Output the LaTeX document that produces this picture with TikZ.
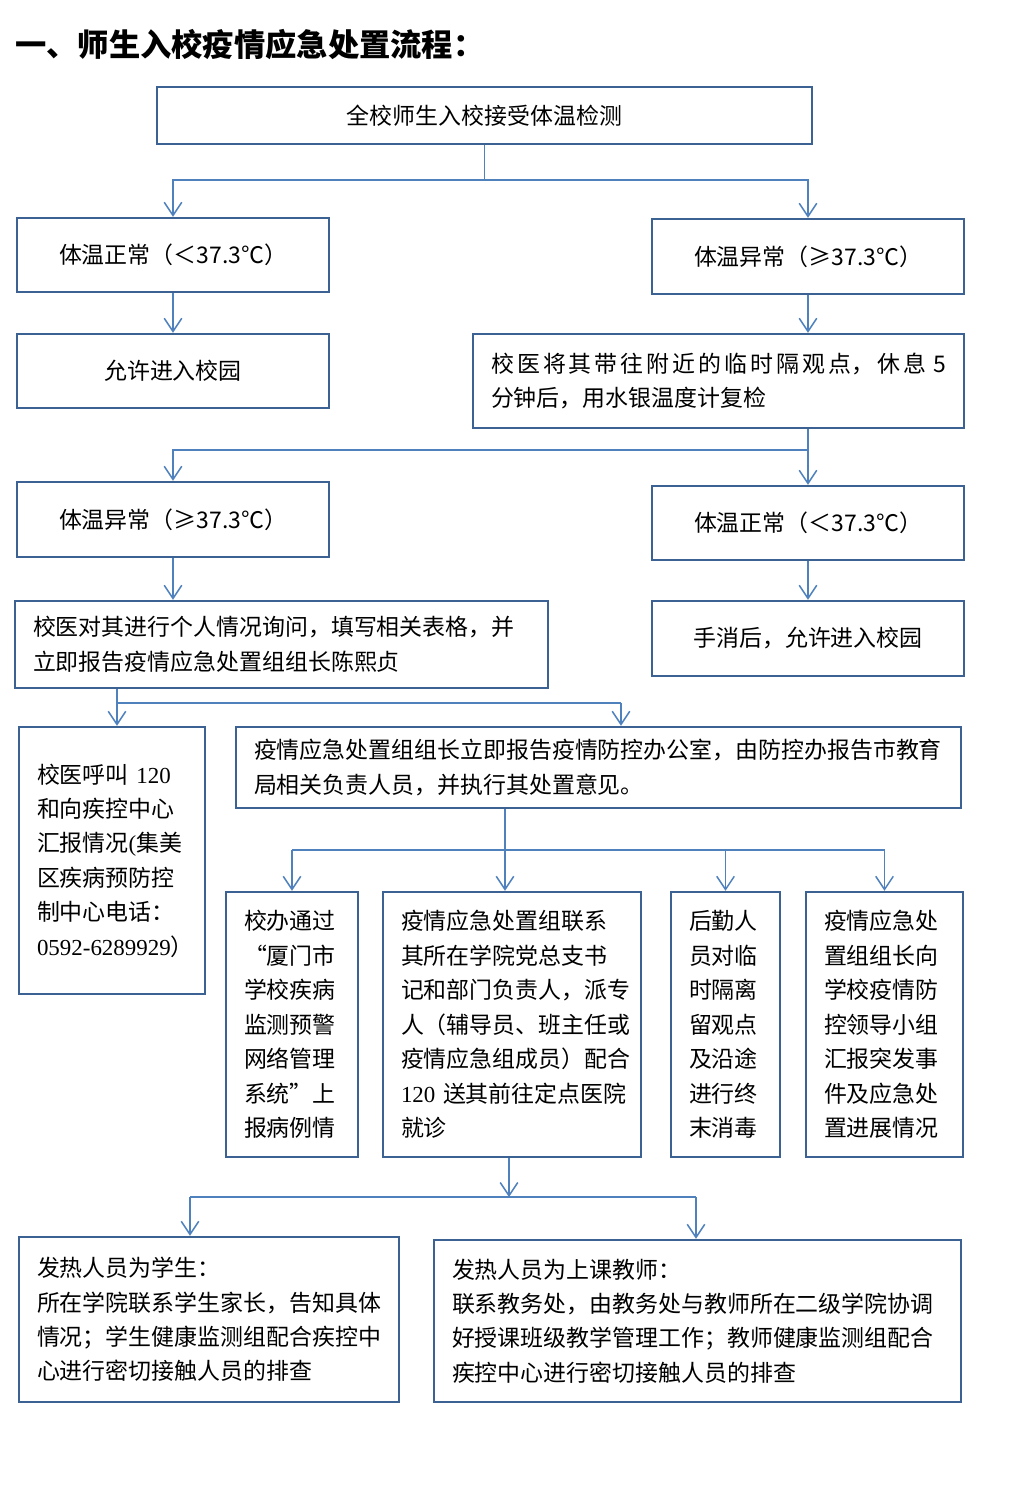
\documentclass[tikz,border=0pt]{standalone}
\usepackage{fontspec}
\setmainfont{Noto Sans CJK SC}
\newfontfamily\numfont{Liberation Serif}
\usetikzlibrary{arrows.meta}

\definecolor{boxblue}{HTML}{3B6293}
\definecolor{lineblue}{HTML}{4F81BD}
\newcommand\flowtitle{\fontsize{17.8pt}{21pt}\selectfont\bfseries}
\newcommand\flowtext{\fontsize{13.05pt}{19.6pt}\selectfont}

\begin{document}
\begin{tikzpicture}[x=0.02cm, y=-0.02cm,
	box/.style={draw=boxblue, line width=1.4pt, inner sep=0pt, font=\flowtext},
	tbox/.style={box, align=left, inner xsep=0.36cm},
	link/.style={draw=lineblue, line width=0.85pt},
	arr/.style={link, -{Straight Barb[length=7.5pt, width=10pt]}}]
	\useasboundingbox (0,0) rectangle (1024,1492);

	% Title.
	\node[anchor=west, inner sep=0pt, font=\flowtitle] (title) at (15,45) {一、师生入校疫情应急处置流程：};

	% First check.
	\node[box, minimum width=13.1cm, minimum height=1.14cm] (check) at (484.5,115.5) {全校师生入校接受体温检测};
	\node[box, minimum width=6.24cm, minimum height=1.48cm] (normalA) at (173,255) {体温正常（＜37.3℃）};
	\node[box, minimum width=6.24cm, minimum height=1.5cm] (feverA) at (808,256.5) {体温异常（≥37.3℃）};
	\node[box, minimum width=6.24cm, minimum height=1.48cm] (enterA) at (173,371) {允许进入校园};
	\node[tbox, align=justify, text width=9.1cm, minimum height=1.88cm] (recheck) at (718.5,381)
		{\XeTeXlinebreaklocale "zh"\relax\XeTeXlinebreakskip=0pt plus 3pt 校医将其带往附近的临时隔观点，休息 5\linebreak 分钟后，用水银温度计复检\XeTeXlinebreaklocale ""\relax};

	% Second check.
	\node[box, minimum width=6.24cm, minimum height=1.5cm] (feverB) at (173,519.5) {体温异常（≥37.3℃）};
	\node[box, minimum width=6.24cm, minimum height=1.48cm] (normalB) at (808,523) {体温正常（＜37.3℃）};
	\node[tbox, text width=9.94cm, minimum height=1.74cm] (inquire) at (281.5,644.5)
		{校医对其进行个人情况询问，填写相关表格，并\\立即报告疫情应急处置组组长陈熙贞};
	\node[box, minimum width=6.24cm, minimum height=1.5cm] (enterB) at (808,638.5) {手消后，允许进入校园};

	% Reporting.
	\node[tbox, text width=3.0cm, minimum height=5.34cm] (call) at (112,860.5)
		{校医呼叫 {\numfont 120}\\和向疾控中心\\汇报情况{\numfont(}集美\\区疾病预防控\\制中心电话：\\\mbox{{\numfont 0592-6289929}）}};
	\node[tbox, text width=13.78cm, minimum height=1.62cm] (report) at (598.5,767.5)
		{疫情应急处置组组长立即报告疫情防控办公室，由防控办报告市教育\\局相关负责人员，并执行其处置意见。};

	% Actions.
	\node[tbox, text width=1.92cm, minimum height=5.3cm] (office) at (292,1024.5)
		{校办通过\\“厦门市\\学校疾病\\监测预警\\网络管理\\系统”上\\报病例情};
	\node[tbox, text width=4.44cm, minimum height=5.3cm] (contact) at (512,1024.5)
		{疫情应急处置组联系\\其所在学院党总支书\\记和部门负责人，派专\\人（辅导员、班主任或\\疫情应急组成员）配合\\\mbox{{\numfont 120} 送其前往定点医院}\\就诊};
	\node[tbox, text width=1.46cm, minimum height=5.3cm] (logistics) at (725.5,1024.5)
		{后勤人\\员对临\\时隔离\\留观点\\及沿途\\进行终\\末消毒};
	\node[tbox, text width=2.42cm, minimum height=5.3cm] (leader) at (884.5,1024.5)
		{疫情应急处\\置组组长向\\学校疫情防\\控领导小组\\汇报突发事\\件及应急处\\置进展情况};

	% Follow-up.
	\node[tbox, text width=6.88cm, minimum height=3.3cm] (student) at (209,1319.5)
		{发热人员为学生：\\所在学院联系学生家长，告知具体\\情况；学生健康监测组配合疾控中\\心进行密切接触人员的排查};
	\node[tbox, text width=9.82cm, minimum height=3.24cm] (teacher) at (697.5,1321)
		{发热人员为上课教师：\\联系教务处，由教务处与教师所在二级学院协调\\好授课班级教学管理工作；教师健康监测组配合\\疾控中心进行密切接触人员的排查};

	% Connect first check.
	\draw[link] (check.south) -- ++(0,35) coordinate (s1);
	\draw[arr] (s1) -| (normalA.north);
	\draw[arr] (s1) -| (feverA.north);
	\draw[arr] (normalA) -- (enterA);
	\draw[arr] (feverA.south) -- (feverA.south |- recheck.north);

	% Connect second check.
	\coordinate (s2) at (808,450);
	\draw[arr] (recheck.south -| normalB) -- (normalB.north);
	\draw[arr] (s2) -| (feverB.north);
	\draw[arr] (feverB.south) -- (feverB.south |- inquire.north);
	\draw[arr] (normalB) -- (enterB);

	% Connect reporting.
	\coordinate (s3l) at (117,703);
	\coordinate (s3r) at (621,703);
	\draw[arr] (inquire.south -| s3l) -- (s3l |- call.north);
	\draw[link] (s3l) -- (s3r);
	\draw[arr] (s3r) -- (s3r |- report.north);

	% Connect actions.
	\coordinate (s4) at (505,850);
	\draw[arr] (report.south -| s4) -- (s4 |- contact.north);
	\draw[link] (office.north |- s4) -- (leader.north |- s4);
	\foreach \n in {office, logistics, leader}
		\draw[arr] (\n.north |- s4) -- (\n.north);

	% Connect follow-up.
	\coordinate (s5) at (509,1197);
	\coordinate (s5l) at (190,1197);
	\coordinate (s5r) at (696,1197);
	\draw[arr] (contact.south -| s5) -- (s5);
	\draw[link] (s5l) -- (s5r);
	\draw[arr] (s5l) -- (s5l |- student.north);
	\draw[arr] (s5r) -- (s5r |- teacher.north);
\end{tikzpicture}
\end{document}
